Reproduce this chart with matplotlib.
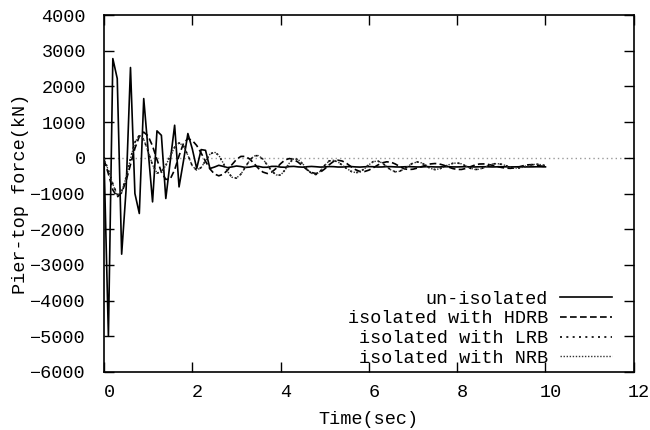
import numpy as np
import matplotlib
matplotlib.use("Agg")
import matplotlib.pyplot as plt
from matplotlib.transforms import ScaledTranslation

# ---- data (kN), sampled every 0.1 s from 0 to 10 s ----
t_start, t_end, t_step = 0.0, 10.0, 0.1

unisolated = [
    0, -5000, 2780, 2220, -2700, -900, 2530, -1000, -1560, 1660,
    200, -1235, 755, 630, -1140, -100, 913, -815, -90, 680,
    250, -300, 230, 210, -300, -260, -210, -240, -275, -255,
    -230, -245, -270, -260, -235, -240, -265, -265, -240, -240,
    -260, -265, -245, -240, -255, -262, -250, -242, -250, -260,
    -255, -245, -248, -258, -258, -248, -246, -255, -260, -252,
    -246, -250, -258, -256, -248, -248, -255, -258, -252, -248,
    -252, -257, -255, -249, -250, -256, -256, -250, -250, -255,
    -256, -251, -250, -254, -256, -252, -250, -253, -256, -253,
    -250, -252, -255, -254, -251, -252, -255, -254, -251, -252,
    -254,
]

hdrb = [
    -50, -450, -900, -1100, -978, -645, -190, 265, 598, 720,
    611, 330, -49, -398, -604, -595, -337, 57, 403, 540,
    486, 345, 134, -100, -311, -452, -505, -461, -345, -189,
    -46, 39, 40, -34, -161, -299, -400, -440, -400, -295,
    -165, -60, -20, -48, -125, -230, -335, -412, -440, -404,
    -311, -195, -102, -67, -92, -160, -251, -334, -384, -385,
    -345, -279, -204, -143, -112, -122, -174, -245, -307, -330,
    -319, -287, -245, -202, -171, -160, -174, -209, -257, -301,
    -327, -326, -297, -250, -203, -174, -171, -185, -210, -241,
    -270, -289, -295, -282, -254, -221, -197, -191, -205, -230,
    -250,
]

lrb = [
    -20, -350, -728, -1040, -944, -550, -19, 436, 631, 513,
    180, -204, -427, -396, -212, 57, 299, 417, 338, 69,
    -228, -350, -271, -83, 102, 165, 69, -149, -387, -549,
    -568, -458, -264, -66, 57, 60, -40, -203, -373, -481,
    -486, -342, -140, -24, -52, -168, -322, -438, -470, -375,
    -209, -86, -73, -122, -209, -306, -382, -418, -394, -304,
    -191, -106, -90, -146, -246, -344, -393, -376, -307, -219,
    -145, -115, -147, -226, -304, -330, -308, -257, -198, -154,
    -143, -173, -233, -294, -328, -320, -277, -219, -173, -160,
    -181, -220, -263, -287, -285, -259, -222, -190, -180, -195,
    -220,
]

nrb = [
    -20, -355, -735, -1045, -950, -555, -25, 430, 628, 515,
    185, -200, -425, -398, -215, 52, 295, 415, 340, 72,
    -225, -348, -273, -86, 98, 162, 72, -145, -383, -546,
    -566, -460, -268, -70, 54, 62, -36, -200, -370, -478,
    -484, -345, -144, -28, -50, -165, -318, -435, -468, -378,
    -212, -90, -70, -118, -205, -302, -380, -416, -396, -308,
    -195, -110, -88, -142, -242, -340, -390, -378, -310, -222,
    -148, -117, -145, -222, -300, -328, -310, -260, -200, -156,
    -144, -170, -230, -291, -326, -322, -280, -222, -175, -161,
    -179, -217, -260, -286, -286, -262, -225, -192, -181, -193,
    -218,
]

series_labels = ["un-isolated", "isolated with HDRB",
                 "isolated with LRB", "isolated with NRB"]
x_ticks = [0, 2, 4, 6, 8, 10, 12]
y_ticks = [4000, 3000, 2000, 1000, 0, -1000, -2000, -3000, -4000, -5000, -6000]
x_title = "Time(sec)"
y_title = "Pier-top force(kN)"

# ---- figure ----
plt.rcParams['font.family'] = ['Liberation Mono', 'DejaVu Sans Mono']
fs = 13.3

fig = plt.figure(figsize=(6.5, 4.3), dpi=100)
ax = fig.add_axes([0.16, 0.135, 0.815, 0.83])

n = len(unisolated)
t = np.linspace(t_start, t_end, n)

ax.axhline(0, color='#999999', lw=1.0, linestyle=(0, (1, 2.2)), zorder=1)

styles = [
    dict(color='black', lw=1.2, linestyle='-'),
    dict(color='black', lw=1.2, linestyle=(0, (4, 2))),
    dict(color='black', lw=1.2, linestyle=(0, (1.2, 2.6))),
    dict(color='#333333', lw=1.0, linestyle=(0, (1, 1.2))),
]
for data, lab, st in zip([unisolated, hdrb, lrb, nrb], series_labels, styles):
    ax.plot(t, data, label=lab, zorder=3, **st)

ax.set_xlim(0, 12)
ax.set_ylim(-6000, 4000)
ax.set_xticks(x_ticks)
ax.set_yticks(y_ticks)
ax.set_xticklabels([str(v) for v in x_ticks])
ax.set_yticklabels([str(v).replace('-', '\u2212') for v in y_ticks])
ax.tick_params(direction='in', length=7, width=1.0, top=True, right=True,
               labelsize=fs)
ax.tick_params(axis='y', pad=13)
ax.tick_params(axis='x', pad=9)
for lab in ax.get_xticklabels():
    lab.set_transform(lab.get_transform() + ScaledTranslation(5/100, 0, fig.dpi_scale_trans))
for sp in ax.spines.values():
    sp.set_linewidth(1.2)

ax.set_xlabel(x_title, fontsize=fs, labelpad=7)
ax.set_ylabel(y_title, fontsize=fs, labelpad=1)

leg = ax.legend(loc='lower right', bbox_to_anchor=(0.958, 0.015),
                frameon=False, markerfirst=False, fontsize=fs,
                handlelength=2.8, handletextpad=0.65, labelspacing=0.14,
                borderpad=0, borderaxespad=0)

fig.savefig("out.png", dpi=100)
